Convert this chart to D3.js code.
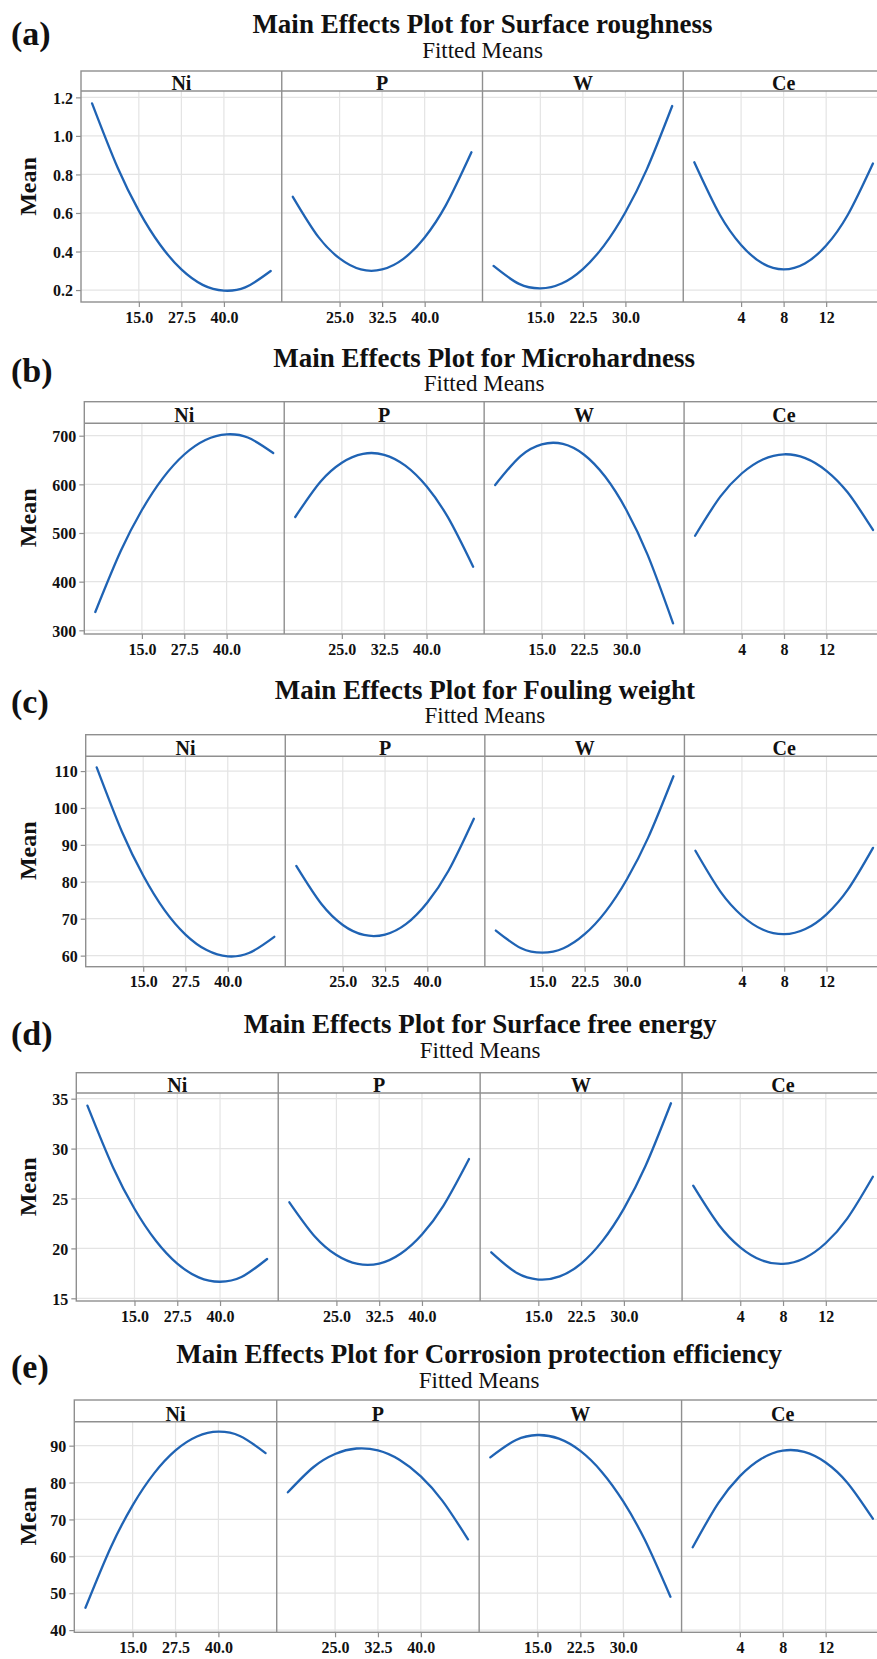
<!DOCTYPE html>
<html>
<head>
<meta charset="utf-8">
<script src="https://cdn.jsdelivr.net/npm/d3@7"></script>
<style>
  html, body { margin: 0; padding: 0; background: #fff; }
  svg { display: block; }
</style>
</head>
<body>
<svg id="fig" width="877" height="1659"></svg>
<script>
// Factors shown in each row of panels
const factorNames = ["Ni", "P", "W", "Ce"];

// Factor settings at which the fitted means are listed
const levelsNi = [1.25, 8.75, 15, 21.25, 27.5, 33.75, 40, 46.25, 53.75];
const levelsP  = [16.75, 21.25, 25, 28.75, 32.5, 36.25, 40, 43.75, 48.25];
const levelsW  = [6.75, 11.25, 15, 18.75, 22.5, 26.25, 30, 33.75, 38.25];
const levelsCe = [-0.4, 2, 4, 6, 8, 10, 12, 14, 16.4];

// Axis ranges and tick labels of each factor
const xDomainNi = [-2, 57];
const xDomainP  = [14.8, 50.2];
const xDomainW  = [4.8, 40.2];
const xDomainCe = [-1.44, 17.44];
const xTicksNi = [15, 27.5, 40];
const xTicksP  = [25, 32.5, 40];
const xTicksW  = [15, 22.5, 30];
const xTicksCe = [4, 8, 12];

// Fitted means, one list per factor (Ni, P, W, Ce)
const roughnessMeans = [
  [1.169, 0.836, 0.611, 0.435, 0.307, 0.227, 0.197, 0.214, 0.299],
  [0.684, 0.476, 0.364, 0.307, 0.307, 0.362, 0.473, 0.641, 0.915],
  [0.325, 0.232, 0.209, 0.234, 0.309, 0.432, 0.604, 0.825, 1.155],
  [0.863, 0.591, 0.434, 0.339, 0.307, 0.338, 0.431, 0.587, 0.857]
];
const hardnessMeans = [
  [337.6, 462.8, 547.2, 613.4, 661.4, 691.2, 702.8, 696.3, 664.4],
  [532.9, 606.0, 644.5, 662.8, 660.8, 638.5, 595.9, 533.0, 430.7],
  [598.7, 658.2, 682.2, 683.1, 660.9, 615.5, 546.9, 455.1, 314.4],
  [494.4, 575.2, 622.3, 651.2, 661.8, 654.0, 627.9, 583.6, 506.2]
];
const foulingMeans = [
  [111.0, 93.5, 81.7, 72.4, 65.7, 61.5, 59.8, 60.7, 65.1],
  [84.3, 73.9, 68.3, 65.6, 65.7, 68.6, 74.4, 83.0, 97.1],
  [66.8, 62.0, 60.8, 62.0, 65.8, 72.0, 80.7, 91.9, 108.6],
  [88.4, 77.2, 70.8, 67.0, 65.8, 67.2, 71.2, 77.8, 89.2]
];
const energyMeans = [
  [34.30, 28.11, 23.97, 20.76, 18.47, 17.10, 16.66, 17.14, 18.94],
  [24.62, 21.17, 19.33, 18.44, 18.48, 19.47, 21.40, 24.27, 28.96],
  [19.61, 17.53, 16.88, 17.19, 18.48, 20.75, 23.99, 28.20, 34.54],
  [26.28, 22.35, 20.11, 18.81, 18.45, 19.02, 20.54, 22.99, 27.18]
];
const corrosionMeans = [
  [46.05, 62.68, 73.82, 82.50, 88.73, 92.50, 93.80, 92.64, 88.00],
  [77.36, 84.22, 87.73, 89.23, 88.72, 86.19, 81.66, 75.11, 64.60],
  [86.85, 91.55, 92.89, 91.90, 88.57, 82.89, 74.88, 64.53, 49.03],
  [62.44, 74.50, 81.75, 86.47, 88.66, 88.32, 85.44, 80.03, 70.20]
];

// Mean-axis ranges and ticks
const roughnessTicks = [0.2, 0.4, 0.6, 0.8, 1.0, 1.2];
const hardnessTicks  = [300, 400, 500, 600, 700];
const foulingTicks   = [60, 70, 80, 90, 100, 110];
const energyTicks    = [15, 20, 25, 30, 35];
const corrosionTicks = [40, 50, 60, 70, 80, 90];
const roughnessRange = [0.138, 1.233];
const hardnessRange  = [292.4, 725.5];
const foulingRange   = [57.0, 114.0];
const energyRange    = [14.73, 35.57];
const corrosionRange = [39.4, 96.5];

const responseTitles = [
  "Main Effects Plot for Surface roughness",
  "Main Effects Plot for Microhardness",
  "Main Effects Plot for Fouling weight",
  "Main Effects Plot for Surface free energy",
  "Main Effects Plot for Corrosion protection efficiency"
];
const panelLetters = ["(a)", "(b)", "(c)", "(d)", "(e)"];

// ---- assembly ----
const levels   = [levelsNi, levelsP, levelsW, levelsCe];
const xDomains = [xDomainNi, xDomainP, xDomainW, xDomainCe];
const xTicks   = [xTicksNi, xTicksP, xTicksW, xTicksCe];
const xFormats = [d3.format(".1f"), d3.format(".1f"), d3.format(".1f"), d3.format("d")];

const rows = [
  { means: roughnessMeans, ticks: roughnessTicks, range: roughnessRange, fmt: d3.format(".1f"),
    box: { left: 81,   titleY: 33,     letterY: 45,     subY: 58,     top: 71,     strip: 91,     bottom: 302 } },
  { means: hardnessMeans,  ticks: hardnessTicks,  range: hardnessRange,  fmt: d3.format("d"),
    box: { left: 84.3, titleY: 366.7,  letterY: 381.7,  subY: 391,    top: 401.7,  strip: 423.3,  bottom: 634 } },
  { means: foulingMeans,   ticks: foulingTicks,   range: foulingRange,   fmt: d3.format("d"),
    box: { left: 85.7, titleY: 699.3,  letterY: 713,    subY: 723,    top: 734.7,  strip: 756.3,  bottom: 966.7 } },
  { means: energyMeans,    ticks: energyTicks,    range: energyRange,    fmt: d3.format("d"),
    box: { left: 76.3, titleY: 1033,   letterY: 1045,   subY: 1058,   top: 1072.7, strip: 1093,   bottom: 1301 } },
  { means: corrosionMeans, ticks: corrosionTicks, range: corrosionRange, fmt: d3.format("d"),
    box: { left: 74.3, titleY: 1363,   letterY: 1378,   subY: 1388,   top: 1400,   strip: 1421.7, bottom: 1632.3 } }
];

const RIGHT = 884;
const SERIF = "'Liberation Serif', 'Times New Roman', serif";
const BORDER = "#8f8f8f";
const GRID = "#e4e4e4";
const INK = "#111";
const LINE = "#1f63b4";

const svg = d3.select("#fig");
svg.append("rect").attr("width", 877).attr("height", 1659).attr("fill", "#fff");

rows.forEach((row, r) => {
  const b = row.box;
  const g = svg.append("g");
  const panelW = (RIGHT - b.left) / 4;
  const cx = (b.left + RIGHT) / 2;

  // headings
  g.append("text").attr("x", 11).attr("y", b.letterY)
    .attr("font-family", SERIF).attr("font-weight", "bold").attr("font-size", 34)
    .attr("fill", INK).text(panelLetters[r]);
  g.append("text").attr("x", cx).attr("y", b.titleY).attr("text-anchor", "middle")
    .attr("font-family", SERIF).attr("font-weight", "bold").attr("font-size", 27)
    .attr("fill", INK).text(responseTitles[r]);
  g.append("text").attr("x", cx).attr("y", b.subY).attr("text-anchor", "middle")
    .attr("font-family", SERIF).attr("font-size", 23)
    .attr("fill", INK).text("Fitted Means");

  // y axis label
  g.append("text")
    .attr("transform", `translate(36,${(b.top + b.bottom) / 2}) rotate(-90)`)
    .attr("text-anchor", "middle")
    .attr("font-family", SERIF).attr("font-weight", "bold").attr("font-size", 24)
    .attr("fill", INK).text("Mean");

  const y = d3.scaleLinear().domain(row.range).range([b.bottom, b.strip]);

  // horizontal grid across the full width
  g.append("g").selectAll("line").data(row.ticks).join("line")
    .attr("x1", b.left).attr("x2", RIGHT)
    .attr("y1", d => y(d)).attr("y2", d => y(d))
    .attr("stroke", GRID).attr("stroke-width", 1.2);

  // left axis
  const yAxis = d3.axisLeft(y).tickValues(row.ticks).tickFormat(row.fmt).tickSize(5).tickPadding(3);
  const ya = g.append("g").attr("transform", `translate(${b.left},0)`).call(yAxis);
  ya.select(".domain").remove();
  ya.selectAll(".tick line").attr("stroke", BORDER).attr("stroke-width", 1.2);
  ya.selectAll(".tick text")
    .attr("font-family", SERIF).attr("font-weight", "bold").attr("font-size", 16)
    .attr("fill", INK).attr("dy", "0.36em");

  factorNames.forEach((name, f) => {
    const x0 = b.left + f * panelW;
    const x = d3.scaleLinear().domain(xDomains[f]).range([x0, x0 + panelW]);
    const pg = g.append("g");

    // vertical grid
    pg.append("g").selectAll("line").data(xTicks[f]).join("line")
      .attr("x1", d => x(d)).attr("x2", d => x(d))
      .attr("y1", b.strip).attr("y2", b.bottom)
      .attr("stroke", GRID).attr("stroke-width", 1.2);

    // bottom axis
    const xAxis = d3.axisBottom(x).tickValues(xTicks[f]).tickFormat(xFormats[f]).tickSize(5).tickPadding(4);
    const xa = pg.append("g").attr("transform", `translate(0,${b.bottom})`).call(xAxis);
    xa.select(".domain").remove();
    xa.selectAll(".tick line").attr("stroke", BORDER).attr("stroke-width", 1.2);
    xa.selectAll(".tick text")
      .attr("font-family", SERIF).attr("font-weight", "bold").attr("font-size", 16)
      .attr("fill", INK).attr("dy", "0.72em");

    // fitted-means curve
    const pts = levels[f].map((lv, i) => [lv, row.means[f][i]]);
    pg.append("path").datum(pts)
      .attr("fill", "none").attr("stroke", LINE).attr("stroke-width", 2.3)
      .attr("stroke-linecap", "round")
      .attr("d", d3.line().x(d => x(d[0])).y(d => y(d[1])).curve(d3.curveCardinal.tension(0)));

    // strip label
    pg.append("text").attr("x", x0 + panelW / 2).attr("y", b.strip - 1)
      .attr("text-anchor", "middle")
      .attr("font-family", SERIF).attr("font-weight", "bold").attr("font-size", 20)
      .attr("fill", INK).text(name);

    // panel divider
    if (f > 0) {
      pg.append("line").attr("x1", x0).attr("x2", x0).attr("y1", b.top).attr("y2", b.bottom)
        .attr("stroke", BORDER).attr("stroke-width", 1.4);
    }
  });

  // outer frame and strip rule
  g.append("rect").attr("x", b.left).attr("y", b.top)
    .attr("width", RIGHT - b.left).attr("height", b.bottom - b.top)
    .attr("fill", "none").attr("stroke", BORDER).attr("stroke-width", 1.4);
  g.append("line").attr("x1", b.left).attr("x2", RIGHT).attr("y1", b.strip).attr("y2", b.strip)
    .attr("stroke", BORDER).attr("stroke-width", 1.4);
});
</script>
</body>
</html>
